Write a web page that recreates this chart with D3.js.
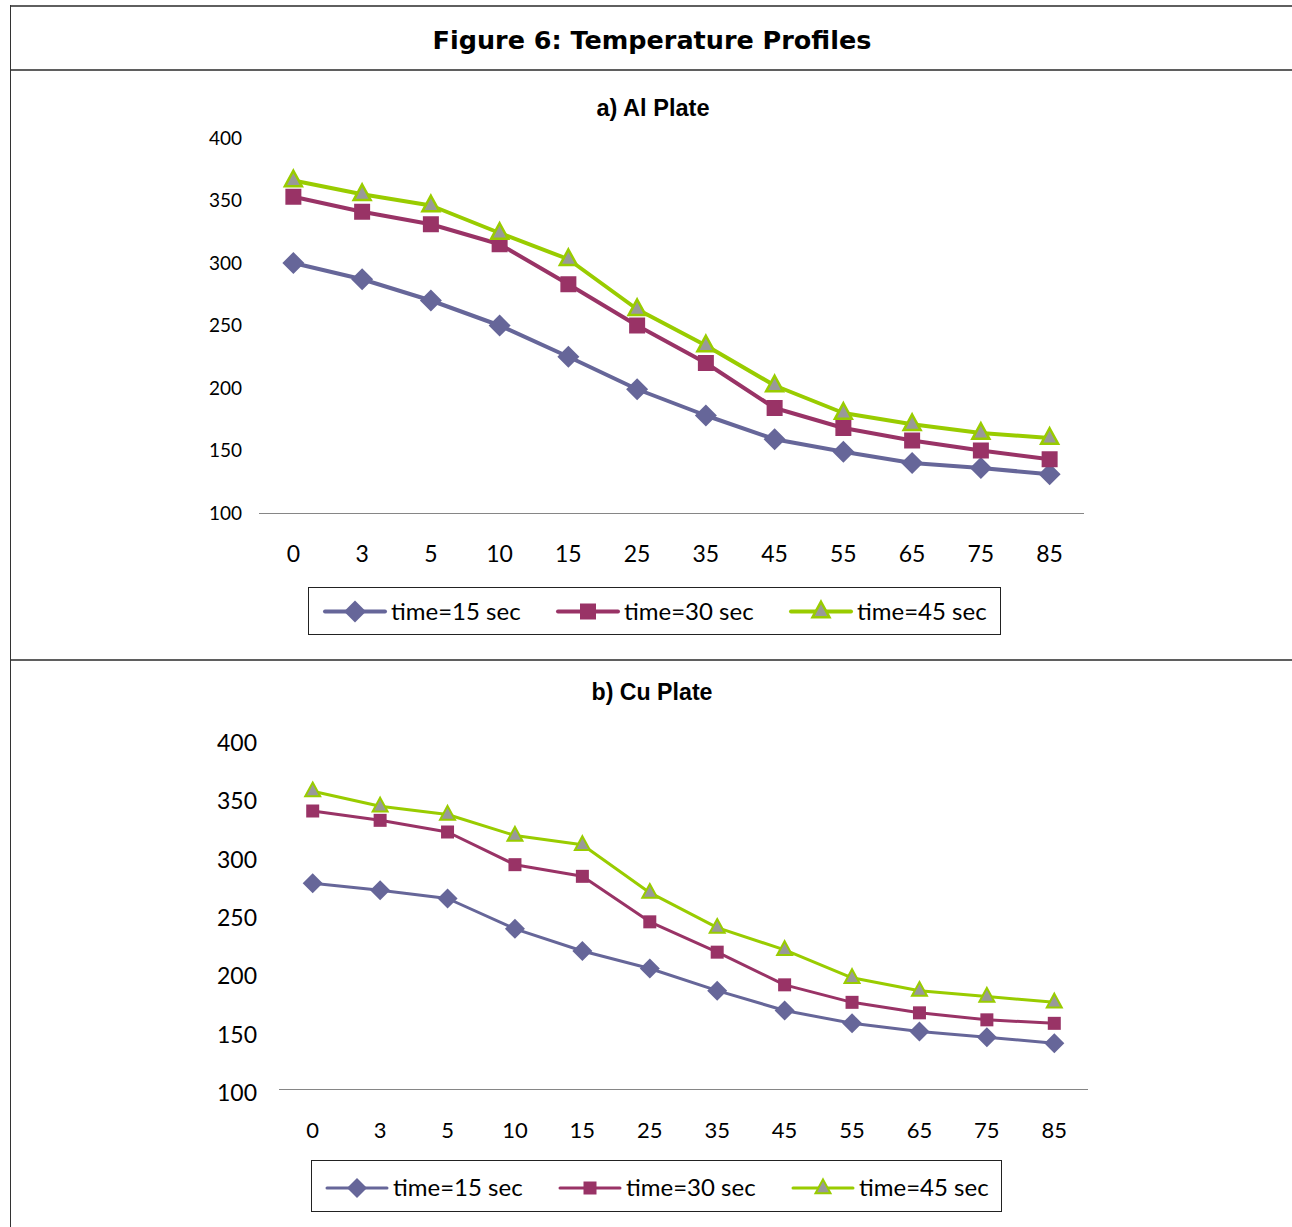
<!DOCTYPE html>
<html>
<head>
<meta charset="utf-8">
<script src="https://cdn.jsdelivr.net/npm/d3@7"></script>
<style>
  body { margin: 0; background: #fff; }
  svg { display: block; }
</style>
</head>
<body>
<div id="chart"></div>
<script>
// distances along the plate
var positions = ['0', '3', '5', '10', '15', '25', '35', '45', '55', '65', '75', '85'];
var seriesNames = ['time=15 sec', 'time=30 sec', 'time=45 sec'];
var yTicks = [100, 150, 200, 250, 300, 350, 400];

// a) Al plate
var al15 = [300, 287, 270, 250, 225, 199, 178, 159, 149, 140, 136, 131];
var al30 = [353, 341, 331, 315, 283, 250, 220, 184, 168, 158, 150, 143];
var al45 = [366, 355, 346, 324, 303, 263, 234, 202, 180, 171, 164, 160];

// b) Cu plate
var cu15 = [278, 272, 265, 239, 220, 205, 186, 169, 158, 151, 146, 141];
var cu30 = [340, 332, 322, 294, 284, 245, 219, 191, 176, 167, 161, 158];
var cu45 = [357, 344, 337, 319, 311, 270, 240, 221, 197, 186, 181, 176];

var svgWidth = 1292;
var svgHeight = 1227;

var colors = ['#666699', '#993366', '#99cc00'];
var shapes = ['diamond', 'square', 'triangle'];

var svg = d3.select('#chart')
    .append('svg')
    .attr('width', svgWidth)
    .attr('height', svgHeight);

// frame lines
var frame = svg.append('g');
[6, 70, 660].forEach(function(y) {
    frame.append('line')
        .attr('x1', 10).attr('x2', svgWidth)
        .attr('y1', y).attr('y2', y)
        .attr('stroke', '#5f5f5f')
        .attr('stroke-width', 2);
});
frame.append('line')
    .attr('x1', 10.5).attr('x2', 10.5)
    .attr('y1', 5).attr('y2', svgHeight)
    .attr('stroke', '#333')
    .attr('stroke-width', 1);

// squeeze/stretch a text to a target width
function fitText(sel, size, target) {
    var w = sel.node().getComputedTextLength();
    if (w > 0) sel.attr('font-size', size * target / w);
}

var title = svg.append('text')
    .attr('x', 652)
    .attr('y', 49)
    .attr('text-anchor', 'middle')
    .attr('font-family', 'DejaVu Sans')
    .attr('font-weight', 'bold')
    .attr('font-size', 24)
    .attr('fill', '#000')
    .text('Figure 6: Temperature Profiles');
fitText(title, 24, 439);

function markerPath(shape, s) {
    if (shape == 'diamond') {
        return `M0,${-s}L${s},0L0,${s}L${-s},0Z`;
    } else if (shape == 'square') {
        return `M${-s},${-s}H${s}V${s}H${-s}Z`;
    }
    var h = s * 1.15;
    return `M0,${-h}L${s},${h * 0.6}L${-s},${h * 0.6}Z`;
}

function drawMarker(g, shape, x, y, sz) {
    var m = g.append('path')
        .attr('transform', `translate(${x},${y})`);
    if (shape == 'diamond') {
        m.attr('d', markerPath(shape, sz.diamond)).attr('fill', colors[0]);
    } else if (shape == 'square') {
        m.attr('d', markerPath(shape, sz.square)).attr('fill', colors[1]);
    } else {
        m.attr('d', markerPath(shape, sz.triangle))
            .attr('fill', '#999999')
            .attr('stroke', colors[2])
            .attr('stroke-width', sz.triStroke);
    }
    return m;
}

function drawPanel(cfg) {
    var g = svg.append('g');

    var xScale = d3.scaleBand()
        .domain(positions)
        .range(cfg.xRange);
    var yScale = d3.scaleLinear()
        .domain([100, 400])
        .range(cfg.yRange);
    var xc = d => xScale(d) + xScale.bandwidth() / 2;

    // subtitle
    var sub = g.append('text')
        .attr('x', cfg.subX)
        .attr('y', cfg.subY)
        .attr('text-anchor', 'middle')
        .attr('font-family', 'Liberation Sans, Arial, sans-serif')
        .attr('font-weight', 'bold')
        .attr('font-size', 22)
        .text(cfg.subtitle);
    fitText(sub, 22, cfg.subW);

    // y tick labels (no axis line in the original)
    g.selectAll('.ylab')
        .data(yTicks)
        .enter()
        .append('text')
        .attr('x', cfg.yLabelX)
        .attr('y', d => yScale(d) + cfg.yLabelDy)
        .attr('dy', '0.35em')
        .attr('text-anchor', 'end')
        .attr('font-family', 'Lato, sans-serif')
        .attr('font-size', cfg.yFont)
        .attr('fill', '#000')
        .text(d => d);

    // x axis line
    g.append('line')
        .attr('x1', cfg.xRange[0]).attr('x2', cfg.xRange[1])
        .attr('y1', cfg.axisY + 0.5).attr('y2', cfg.axisY + 0.5)
        .attr('stroke', '#868686')
        .attr('stroke-width', 1);

    // x tick labels
    g.selectAll('.xlab')
        .data(positions)
        .enter()
        .append('text')
        .attr('x', d => xc(d))
        .attr('y', cfg.xLabelY)
        .attr('dy', '0.35em')
        .attr('text-anchor', 'middle')
        .attr('font-family', 'Lato, sans-serif')
        .attr('font-size', cfg.xFont)
        .attr('fill', '#000')
        .text(d => d);

    var line = d3.line()
        .x((d, i) => xc(positions[i]))
        .y(d => yScale(d));

    cfg.series.forEach(function(values, k) {
        g.append('path')
            .datum(values)
            .attr('d', line)
            .attr('fill', 'none')
            .attr('stroke', colors[k])
            .attr('stroke-width', cfg.lineWidth)
            .attr('stroke-linejoin', 'round');
    });
    cfg.series.forEach(function(values, k) {
        values.forEach(function(v, i) {
            drawMarker(g, shapes[k], xc(positions[i]), yScale(v), cfg.markers);
        });
    });

    // legend
    var lg = g.append('g');
    lg.append('rect')
        .attr('x', cfg.legend.x + 0.5)
        .attr('y', cfg.legend.y + 0.5)
        .attr('width', cfg.legend.w)
        .attr('height', cfg.legend.h)
        .attr('fill', '#fff')
        .attr('stroke', '#222')
        .attr('stroke-width', 1);
    seriesNames.forEach(function(name, k) {
        var x0 = cfg.legend.itemX[k];
        var cy = cfg.legend.y + cfg.legend.h / 2 + cfg.legend.dy;
        lg.append('line')
            .attr('x1', x0).attr('x2', x0 + 60)
            .attr('y1', cy).attr('y2', cy)
            .attr('stroke', colors[k])
            .attr('stroke-width', cfg.lineWidth)
            .attr('stroke-linecap', 'round');
        drawMarker(lg, shapes[k], x0 + 30, cy, cfg.markers);
        lg.append('text')
            .attr('x', x0 + 66)
            .attr('y', cy)
            .attr('dy', '0.35em')
            .attr('font-family', 'Lato, sans-serif')
            .attr('font-size', cfg.legendFont)
            .attr('fill', '#000')
            .text(name);
    });
}

drawPanel({
    subtitle: 'a) Al Plate',
    subX: 653, subY: 116, subW: 113,
    xRange: [259, 1084],
    yRange: [513, 138],
    axisY: 513,
    yLabelX: 242, yLabelDy: 0, yFont: 19,
    xLabelY: 554, xFont: 23,
    lineWidth: 4,
    markers: { diamond: 11, square: 8, triangle: 8.5, triStroke: 2.5 },
    series: [al15, al30, al45],
    legend: { x: 308, y: 587, w: 692, h: 47, dy: 1, itemX: [325, 558, 791] },
    legendFont: 24
});

drawPanel({
    subtitle: 'b) Cu Plate',
    subX: 652, subY: 700, subW: 121,
    xRange: [279, 1088],
    yRange: [1091, 741],
    axisY: 1089,
    yLabelX: 257, yLabelDy: 2, yFont: 23,
    xLabelY: 1130, xFont: 22,
    lineWidth: 3,
    markers: { diamond: 10, square: 6.5, triangle: 7.5, triStroke: 2 },
    series: [cu15, cu30, cu45],
    legend: { x: 311, y: 1160, w: 690, h: 51, dy: 2.5, itemX: [327, 560, 793] },
    legendFont: 24
});
</script>
</body>
</html>
